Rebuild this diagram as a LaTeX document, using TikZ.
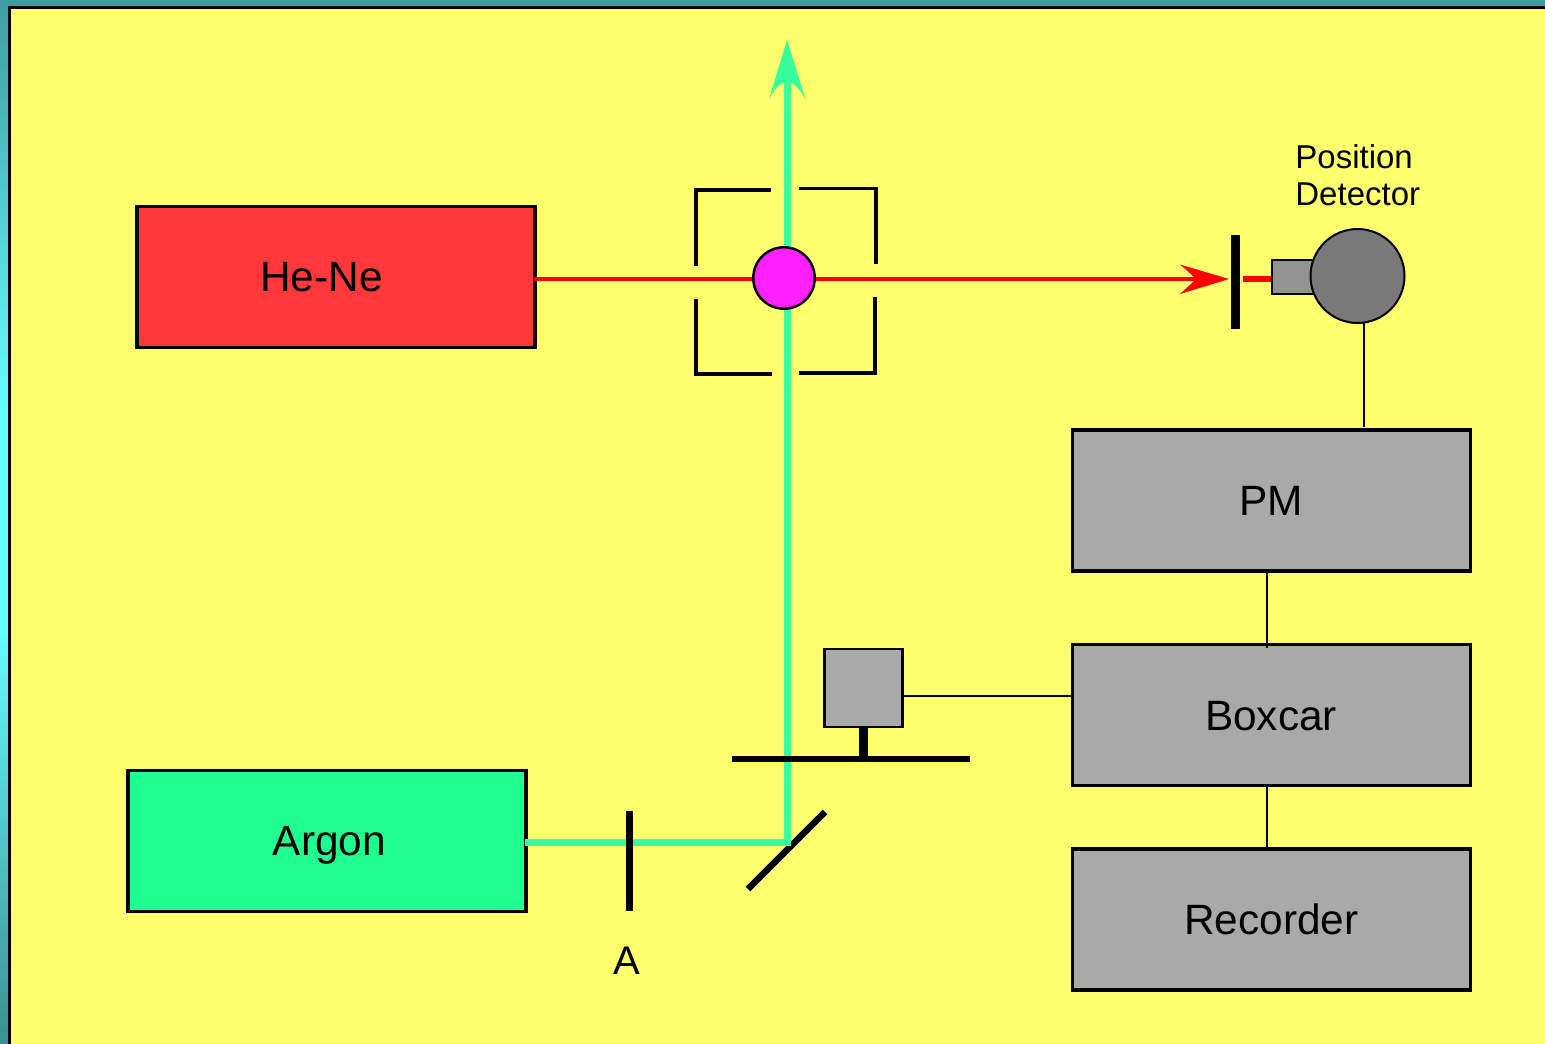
\documentclass[tikz,border=0pt]{standalone}
\usepackage{fontspec}
\setmainfont{Liberation Sans}
\usetikzlibrary{arrows.meta}
\definecolor{paper}{HTML}{FFFF6E}
\definecolor{laserred}{HTML}{FF3939}
\definecolor{argon}{HTML}{1FFF8F}
\definecolor{beam}{HTML}{38FF9C}
\definecolor{boxgray}{HTML}{A9A9A9}
\definecolor{beamred}{HTML}{FF0000}
\definecolor{magentaball}{HTML}{FF1FFF}
\definecolor{tealtop}{HTML}{3E9DA0}
\definecolor{cyanmid}{HTML}{66FFFF}
\definecolor{tealbot}{HTML}{3A8F92}
\tikzset{
  x=1pt,y=-1pt,
  unitbox/.style={draw=black,line width=3.8pt,minimum width=398pt,minimum height=141pt,inner sep=0pt},
  wire/.style={draw=black,line width=2pt},
  plate/.style={draw=black,line width=3.8pt},
  redbeam/.style={draw=beamred,line width=4pt},
  greenbeam/.style={draw=beam,line width=7pt},
  lbl/.style={inner sep=0pt,font=\fontsize{42.4}{46}\selectfont},
  smalllbl/.style={inner sep=0pt,align=left,font=\fontsize{33}{37}\selectfont}
}
\begin{document}
\begin{tikzpicture}
\useasboundingbox (0,0) rectangle (1545,1044);
\shade[top color=tealtop,bottom color=cyanmid] (0,0) rectangle (9,420);
\fill[cyanmid] (0,420) rectangle (9,620);
\shade[top color=cyanmid,bottom color=tealbot] (0,620) rectangle (9,1044);
\fill[tealtop] (0,0) rectangle (1545,7);
\fill[paper] (9,7) rectangle (1545,1044);
\fill[black] (8,6) rectangle (1545,8.5);
\fill[black] (8,6) rectangle (10.5,1044);

% lasers
\node[unitbox,fill=laserred] (hene) at (336,277) {};
\node[lbl,anchor=base] (henetxt) at (321.5,291) {He-Ne};
\node[unitbox,fill=argon] (argonbox) at (327,841) {};
\node[lbl,anchor=base] (argontxt) at (329.5,855) {Argon};

% beams
\coordinate (mirrorhit) at (787,842);
\coordinate (beamtop) at (787,40);
\coordinate (mirrorA) at (825,812);
\coordinate (mirrorB) at (748,889);
\draw[line width=6.5pt,black] (mirrorA) -- (mirrorB);
\draw[greenbeam] ([xshift=-3pt]argonbox.east |- mirrorhit) -- (mirrorhit);
\draw[greenbeam] (mirrorhit) ++(0,3.5) -- (787,78);
\fill[beam] (beamtop) -- (805.5,99) .. controls (799,88) and (794,83) .. (787,81) .. controls (780,83) and (775,88) .. (769,99) -- cycle;

% red beam
\coordinate (tipred) at (1229,279);
\draw[redbeam] ([xshift=-3pt]hene.east |- tipred) -- (1200,279);
\fill[beamred] (tipred) -- (1180,264.5) .. controls (1190,273) and (1194,277) .. (1196,279) .. controls (1194,281) and (1190,285) .. (1180,294) -- cycle;

% chamber
\draw[plate] (771,190) -- (696,190) -- (696,266);
\draw[plate] (799,188.5) -- (876,188.5) -- (876,264);
\draw[plate] (696,299) -- (696,374) -- (772,374);
\draw[plate] (875,297) -- (875,373) -- (799,373);
\node[circle,draw=black,line width=2.4pt,fill=magentaball,minimum size=61.5pt,inner sep=0pt] (ball) at (784,278) {};

% detector
\draw[line width=9pt,black] (1235.5,235) -- (1235.5,329);
\draw[draw=beamred,line width=6.5pt] (1243,279) -- (1272,279);
\node[draw=black,line width=2pt,fill=gray!85,minimum width=50pt,minimum height=34pt,inner sep=0pt] (detstub) at (1296.5,277) {};
\node[circle,draw=black,line width=2pt,fill=gray!95!black,minimum size=94pt,inner sep=0pt] (det) at (1357.5,276) {};
\node[smalllbl,anchor=north west] (dettxt) at (1295.2,144) {Position\\Detector};

% right column
\node[unitbox,fill=boxgray] (pm) at (1271.5,500.5) {};
\node[lbl,anchor=base] (pmtxt) at (1271,515) {PM};
\node[unitbox,fill=boxgray] (boxcar) at (1271.5,715) {};
\node[lbl,anchor=base] (boxcartxt) at (1271,730) {Boxcar};
\node[unitbox,fill=boxgray] (rec) at (1271.5,919.5) {};
\node[lbl,anchor=base] (rectxt) at (1271.3,934) {Recorder};

\draw[wire] (1363.8,322) -- (1363.8,427);
\draw[wire] (1267,572) -- (1267,648);
\draw[wire] (1267,787) -- (1267,849);

% chopper
\node[draw=black,line width=2.4pt,fill=boxgray,minimum size=78pt,inner sep=0pt] (chop) at (863.3,688) {};
\draw[wire] (chop.east |- 0,696) -- (boxcar.west |- 0,696);
\draw[line width=8.5pt,black] (863.3,727) -- (863.3,759);
\draw[line width=6.5pt,black] (732,759) -- (970,759);

% aperture A
\draw[line width=6.5pt,black] (629.5,811) -- (629.5,911);
\node[lbl,font=\fontsize{40}{44}\selectfont,anchor=base] (atxt) at (627.3,974.3) {A};
\end{tikzpicture}
\end{document}
